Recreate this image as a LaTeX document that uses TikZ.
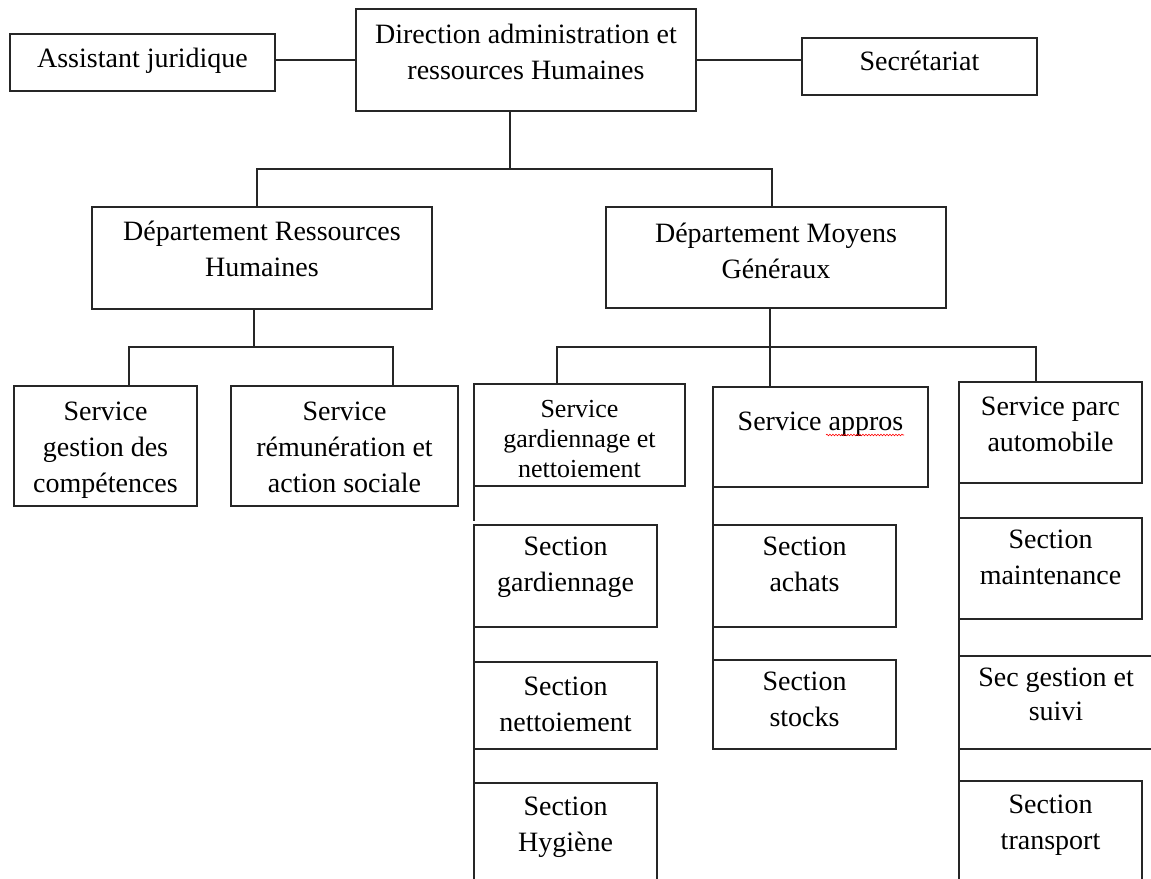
\documentclass[tikz,border=0pt]{standalone}
\usepackage{fontspec}
\setmainfont{Liberation Serif}
\usetikzlibrary{calc,decorations.pathmorphing}
\definecolor{linecol}{gray}{0.15}
\newcommand{\bx}[4]{\parbox[c][#2pt][t]{#1pt}{\centering\rule{0pt}{#3pt}#4\par}}
\tikzset{
  box/.style={draw=linecol, line width=1.5pt, inner sep=0pt, outer sep=0pt, fill=white,
    font=\fontsize{28}{36}\selectfont},
  conn/.style={draw=linecol, line width=1.5pt}
}
\begin{document}
\begin{tikzpicture}[x=1pt,y=-1pt]
\useasboundingbox (0,0) rectangle (1151,878);
% top level
\node[box] (assist) at (142.5,62.5) {\bx{265}{57}{33}{Assistant juridique}};
\node[box] (dir) at (526,60) {\bx{340}{102}{34}{Direction administration et\\ressources Humaines}};
\node[box] (sec) at (919.5,66.5) {\bx{235}{57}{32}{Secrétariat}};
% departments
\node[box] (rh) at (262,258) {\bx{340}{102}{33}{Département Ressources\\Humaines}};
\node[box] (mg) at (776,257.5) {\bx{340}{101}{35}{Département Moyens\\Généraux}};
% RH services
\node[box] (gest) at (105.5,446) {\bx{183}{120}{34}{Service\\gestion des\\compétences}};
\node[box] (rem) at (344.5,446) {\bx{227}{120}{34}{Service\\rémunération et\\action sociale}};
% MG services
\node[box, font=\fontsize{26}{30}\selectfont] (gs) at (579.5,435) {\bx{211}{102}{33}{Service\\gardiennage et\\nettoiement}};
\node[box] (app) at (820.5,437) {\bx{215}{100}{43}{Service appros}};
\node[box] (parc) at (1050.5,432.5) {\bx{183}{101}{33}{Service parc\\automobile}};
% sections
\node[box] (sgard) at (565.5,576) {\bx{183}{102}{30}{Section\\gardiennage}};
\node[box] (snet) at (565.5,705.5) {\bx{183}{87}{33}{Section\\nettoiement}};
\node[box] (shyg) at (565.5,836.5) {\bx{183}{107}{32}{Section\\Hygiène}};
\node[box] (sach) at (804.5,576) {\bx{183}{102}{30}{Section\\achats}};
\node[box] (ssto) at (804.5,704.5) {\bx{183}{89}{30}{Section\\stocks}};
\node[box] (smain) at (1050.5,568.5) {\bx{183}{101}{30}{Section\\maintenance}};
\node[box, font=\fontsize{28}{34}\selectfont] (sgs) at (1056,702.5) {\bx{194}{93}{30}{Sec gestion et\\suivi}};
\node[box] (strans) at (1050.5,835.5) {\bx{183}{109}{32}{Section\\transport}};
% spell-check underline
\draw[red, line width=0.6pt, decorate, decoration={snake, amplitude=0.8pt, segment length=3pt}]
  ($(app.north west)+(113,48)$) -- ++(78,0);
% junction points
\coordinate (j0) at (510,169);
\coordinate (jl) at (257,169);
\coordinate (jr) at (772,169);
\coordinate (k0) at (254,347);
\coordinate (k1) at (129,347);
\coordinate (k2) at (393,347);
\coordinate (m0) at (770,347);
\coordinate (m1) at (557,347);
\coordinate (m2) at (1036,347);
% connectors
\draw[conn] (dir.west) -- (dir.west -| assist.east);
\draw[conn] (dir.east) -- (dir.east -| sec.west);
\draw[conn] (dir.south -| j0) -- (j0);
\draw[conn] (jl |- rh.north) -- (jl) -- (jr) -- (jr |- mg.north);
\draw[conn] (rh.south -| k0) -- (k0);
\draw[conn] (k1 |- gest.north) -- (k1) -- (k2) -- (k2 |- rem.north);
\draw[conn] (mg.south -| m0) -- (m0);
\draw[conn] (m1 |- gs.north) -- (m1) -- (m2) -- (m2 |- parc.north);
\draw[conn] (m0) -- (m0 |- app.north);
\draw[conn] (gs.south west) -- ($(sgard.north west)+(0,-4)$);
\draw[conn] (sgard.south west) -- (snet.north west);
\draw[conn] (snet.south west) -- (shyg.north west);
\draw[conn] (app.south west) -- (sach.north west);
\draw[conn] (sach.south west) -- (ssto.north west);
\draw[conn] (parc.south west) -- (smain.north west);
\draw[conn] (smain.south west) -- (sgs.north west);
\draw[conn] (sgs.south west) -- (strans.north west);
\end{tikzpicture}
\end{document}
